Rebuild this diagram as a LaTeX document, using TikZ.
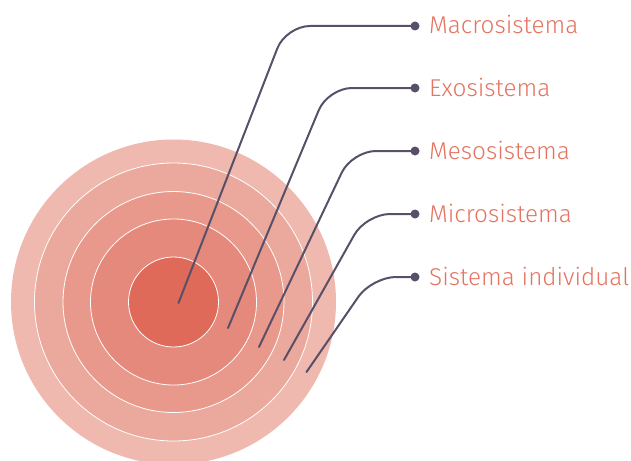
\documentclass[tikz,border=0pt]{standalone}
\usepackage{fontspec}
\setmainfont{Fira Sans Light}
\definecolor{ring1}{HTML}{EFB9AF}
\definecolor{ring2}{HTML}{EBA89C}
\definecolor{ring3}{HTML}{E8998B}
\definecolor{ring4}{HTML}{E4897B}
\definecolor{ring5}{HTML}{E06A5A}
\definecolor{conncol}{HTML}{585069}
\definecolor{labcol}{HTML}{E4735F}
\tikzset{
  ringsep/.style={draw=white, line width=0.8pt},
  conn/.style={draw=conncol, line width=2pt, rounded corners=24pt, line cap=round},
  enddot/.style={circle, fill=conncol, inner sep=0pt, minimum size=9pt},
  lab/.style={anchor=base west, text=labcol, font=\fontsize{24.3}{28}\selectfont, inner sep=0pt}
}
\begin{document}
\begin{tikzpicture}[x=1pt,y=-1pt]
\useasboundingbox (0,0) rectangle (631,460);
\clip (0,0) rectangle (631,460);
% rings
\fill[ring1] (173.5,302) circle (162.5);
\filldraw[fill=ring2, ringsep] (173.5,302) circle (139);
\filldraw[fill=ring3, ringsep] (173.5,302) circle (110.5);
\filldraw[fill=ring4, ringsep] (173.5,302) circle (83);
\filldraw[fill=ring5, ringsep] (173.5,302) circle (45);
% start points
\coordinate (s1) at (178.5,303);
\coordinate (s2) at (228,328);
\coordinate (s3) at (259,347);
\coordinate (s4) at (284,360);
\coordinate (s5) at (306.5,372);
% corners
\coordinate (c1) at (286,26);
\coordinate (c2) at (328,88);
\coordinate (c3) at (352,151);
\coordinate (c4) at (366,214);
\coordinate (c5) at (372,277);
% dots
\node[enddot] (d1) at (415,26) {};
\node[enddot] (d2) at (415,88) {};
\node[enddot] (d3) at (415,151) {};
\node[enddot] (d4) at (415,214) {};
\node[enddot] (d5) at (415,277) {};
% labels
\node[lab] (l1) at (429,34) {Macrosistema};
\node[lab] (l2) at (429,96) {Exosistema};
\node[lab] (l3) at (429,159) {Mesosistema};
\node[lab] (l4) at (429,222) {Microsistema};
\node[lab] (l5) at (429,285) {Sistema individual};
% connectors
\draw[conn] (s1) -- (c1) -- (d1.center);
\draw[conn] (s2) -- (c2) -- (d2.center);
\draw[conn] (s3) -- (c3) -- (d3.center);
\draw[conn] (s4) -- (c4) -- (d4.center);
\draw[conn] (s5) -- (c5) -- (d5.center);
\end{tikzpicture}
\end{document}
